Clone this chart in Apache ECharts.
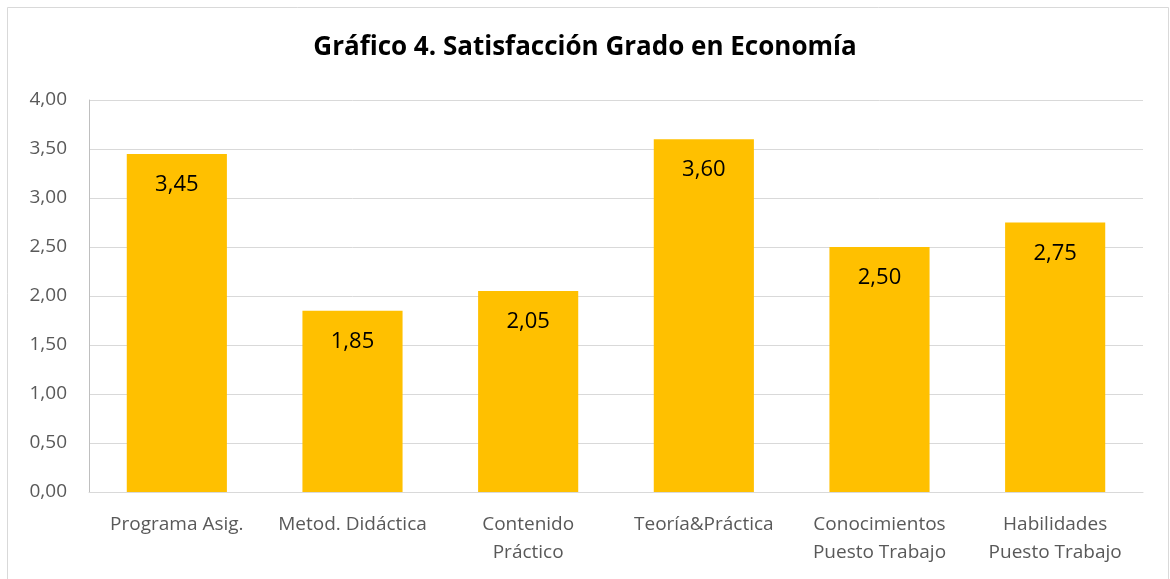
<!DOCTYPE html>
<html>
<head>
<meta charset="utf-8">
<script src="https://cdn.jsdelivr.net/npm/echarts@6/dist/echarts.min.js"></script>
<style>
html, body { margin: 0; padding: 0; background: #fff; }
#chart { width: 1170px; height: 579px; }
</style>
</head>
<body>
<div id="chart"></div>
<script>
// categorías y valores del gráfico
var categorias = ['Programa Asig.', 'Metod. Didáctica', 'Contenido\nPráctico', 'Teoría&Práctica', 'Conocimientos\nPuesto Trabajo', 'Habilidades\nPuesto Trabajo']
var valores = [3.45, 1.85, 2.05, 3.60, 2.50, 2.75]
var fmt = function (v) { return Number(v).toFixed(2).replace('.', ',') }

var chart = echarts.init(document.getElementById('chart'))
var option = {
    backgroundColor: '#fff',
    animation: false,
    title: {
        text: 'Gráfico 4. Satisfacción Grado en Economía',
        left: 'center',
        top: 30,
        textStyle: {
            fontFamily: 'Open Sans',
            fontWeight: 'bold',
            fontSize: 26,
            color: '#000'
        }
    },
    graphic: [{
        type: 'rect',
        shape: { x: 7.5, y: 7.5, width: 1161, height: 580 },
        style: { fill: 'none', stroke: '#d9d9d9', lineWidth: 1 },
        silent: true
    }],
    grid: {
        left: 89,
        right: 27,
        top: 100,
        bottom: 87
    },
    xAxis: {
        type: 'category',
        data: categorias,
        axisLine: { lineStyle: { color: '#d9d9d9', width: 1 } },
        axisTick: { show: false },
        axisLabel: {
            color: '#595959',
            fontFamily: 'Open Sans',
            fontSize: 19,
            lineHeight: 28,
            margin: 19,
            interval: 0
        }
    },
    yAxis: {
        type: 'value',
        min: 0,
        max: 4,
        interval: 0.5,
        axisLine: { show: true, lineStyle: { color: '#bfbfbf' } },
        axisTick: { show: false },
        splitLine: { lineStyle: { color: '#d9d9d9', width: 1 } },
        axisLabel: {
            color: '#595959',
            fontFamily: 'Open Sans',
            fontSize: 19,
            margin: 22,
            formatter: fmt
        }
    },
    series: [{
        type: 'bar',
        data: valores,
        barWidth: '57%',
        itemStyle: { color: '#FFC000' },
        label: {
            show: true,
            position: 'insideTop',
            distance: 20,
            color: '#000',
            fontFamily: 'Open Sans',
            fontSize: 22,
            formatter: function (p) { return fmt(p.value) }
        }
    }]
}
chart.setOption(option)
</script>
</body>
</html>
